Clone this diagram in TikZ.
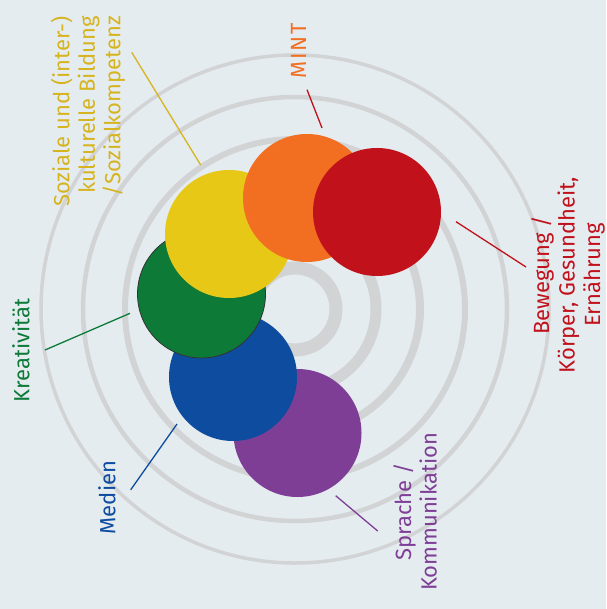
\documentclass[tikz,border=0pt]{standalone}
\usepackage{fontspec}
\setmainfont{Fira Sans}
\definecolor{bg}{HTML}{E5ECF0}
\definecolor{ring}{HTML}{D2D3D5}
\definecolor{cred}{HTML}{C1121C}
\definecolor{corange}{HTML}{F26F22}
\definecolor{cyellow}{HTML}{E8C817}
\definecolor{tyellow}{HTML}{D6B420}
\definecolor{cgreen}{HTML}{0D7A38}
\definecolor{cblue}{HTML}{0D4C9F}
\definecolor{cpurple}{HTML}{7E3E96}
\begin{document}
\begin{tikzpicture}[x=1pt,y=-1pt,
  ringline/.style={draw=ring},
  disc/.style={circle,minimum size=128pt,inner sep=0pt},
  lbl/.style={rotate=90,inner sep=0pt,font=\fontsize{22}{25.5}\selectfont},
  pointer/.style={line width=1.3pt}]
\fill[bg] (0,0) rectangle (606,609);
\useasboundingbox (0,0) rectangle (606,609);
\coordinate (c) at (295,309);
\draw[ringline,line width=13pt] (c) circle[radius=41];
\draw[ringline,line width=11pt] (c) circle[radius=81];
\draw[ringline,line width=8pt] (c) circle[radius=125];
\draw[ringline,line width=6pt] (c) circle[radius=170];
\draw[ringline,line width=4.5pt] (c) circle[radius=212];
\draw[ringline,line width=3.5pt] (c) circle[radius=254];
% discs
\node[disc,fill=cpurple] (purple) at (297.5,433) {};
\node[disc,fill=cblue] (blue) at (233,377) {};
\node[disc,fill=cgreen,draw=black!80,line width=0.8pt] (green) at (201.5,294) {};
\node[disc,fill=cyellow] (yellow) at (229,234) {};
\node[disc,fill=corange] (orange) at (307,198) {};
\node[disc,fill=cred] (red) at (377,212) {};
% labels
\node[lbl,text=tyellow,align=right,anchor=east] (ly) at (88,16) {Soziale und (inter-)\\kulturelle Bildung\\/Sozialkompetenz};
\node[lbl,text=corange] (lo) at (298.5,51) {\addfontfeature{LetterSpace=9}MINT};
\node[lbl,text=cred,align=center] (lr) at (568,275) {Bewegung /\\Körper, Gesundheit,\\Ernährung};
\node[lbl,text=cpurple,align=center] (lp) at (415,512) {Sprache /\\Kommunikation};
\node[lbl,text=cblue] (lb) at (107,497.5) {Medien};
\node[lbl,text=cgreen] (lg) at (21,350.5) {Kreativität};
% pointers
\coordinate (ya) at (131.7,52.3); \coordinate (yb) at (200.7,165);
\coordinate (oa) at (307,89.7); \coordinate (ob) at (322,128);
\coordinate (ra) at (456,221.7); \coordinate (rb) at (526,267);
\coordinate (pa) at (335.7,495.7); \coordinate (pb) at (377.7,531);
\coordinate (ga) at (45,350); \coordinate (gb) at (130,313.3);
\coordinate (ba) at (130.7,489.8); \coordinate (bb) at (177,424);
\draw[pointer,draw=tyellow] (ya) -- (yb);
\draw[pointer,draw=cred] (oa) -- (ob);
\draw[pointer,draw=cred] (ra) -- (rb);
\draw[pointer,draw=cpurple] (pa) -- (pb);
\draw[pointer,draw=cgreen] (ga) -- (gb);
\draw[pointer,draw=cblue] (ba) -- (bb);
\end{tikzpicture}
\end{document}
